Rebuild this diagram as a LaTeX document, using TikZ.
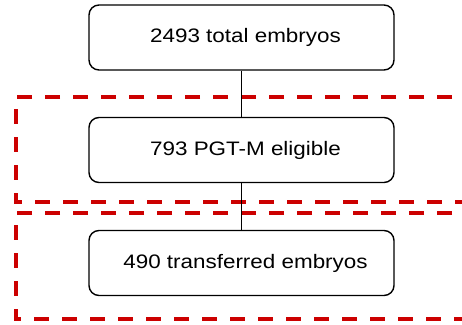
\documentclass[tikz,border=0pt]{standalone}
\usepackage{fontspec}
\setmainfont{Liberation Sans}
\newfontfamily\widesans[FakeStretch=1.15]{Liberation Sans}
\usepackage{tikz}
\usetikzlibrary{positioning}

\begin{document}
\begin{tikzpicture}[x=1pt, y=-1pt,
    stage/.style={draw, line width=1.4pt, rounded corners=10pt, minimum width=305pt, minimum height=65pt, align=center, font=\widesans\fontsize{19.5}{23}\selectfont, fill=white},
    link/.style={line width=1.2pt},
    zone/.style={draw=red!80!black, line width=4pt, dash pattern=on 15pt off 13pt}
]
\useasboundingbox (0,0) rectangle (462,324);
\begin{scope}
\clip (0,0) rectangle (462,324);
\draw[zone] (480,97) -- (16,97) -- (16,202) -- (480,202);
\draw[zone] (480,213) -- (16,213) -- (16,319) -- (480,319);
\end{scope}

\node[stage] (total) at (241.5,37.5) {\hspace{8pt}2493 total embryos};
\node[stage] (elig) at (241.5,150) {\hspace{8pt}793 PGT-M eligible};
\node[stage] (trans) at (241.5,263) {\hspace{8pt}490 transferred embryos};

\draw[link] (total) -- (elig);
\draw[link] (elig) -- (trans);
\end{tikzpicture}
\end{document}
